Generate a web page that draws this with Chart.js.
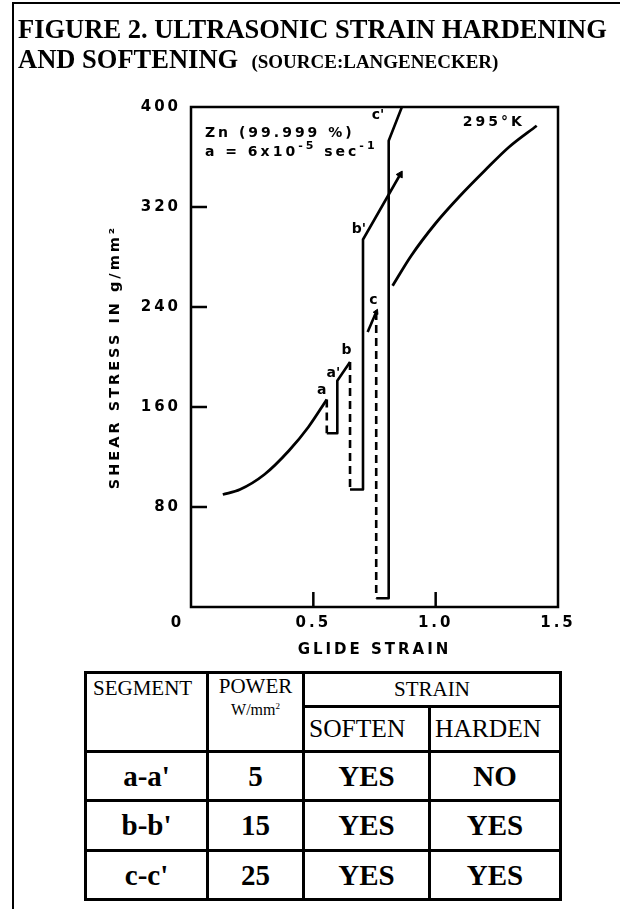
<!DOCTYPE html>
<html>
<head>
<meta charset="utf-8">
<script src="https://cdn.jsdelivr.net/npm/chart.js@4.4.1/dist/chart.umd.min.js"></script>
<style>
  html, body { margin: 0; padding: 0; background: #fff; }
  #page { position: relative; width: 620px; height: 909px; overflow: hidden; }
  #frame { position: absolute; left: 12px; top: 2px; width: 800px; height: 1000px;
           border-left: 2px solid #000; border-top: 2px solid #000; }
  #chart { position: absolute; left: 0; top: 0; }
  .title { position: absolute; left: 18px; font-family: "Liberation Serif", serif; font-weight: bold;
           font-size: 26.5px; white-space: nowrap; line-height: 1; color: #000; }
  .title small { font-size: 19px; }
  table { position: absolute; left: 84px; top: 671px; border-collapse: collapse; table-layout: fixed;
          font-family: "Liberation Serif", serif; color: #000; }
  td { border: 3px solid #000; padding: 0; overflow: hidden; white-space: nowrap; }
  .head { font-size: 21px; vertical-align: top; padding: 2px 0 0 6px; }
  .pow { text-align: center; padding-left: 0; line-height: 20px; }
  .pow span { font-size: 16px; }
  .pow sup { font-size: 9px; vertical-align: 6px; }
  .strain { font-size: 21px; text-align: center; }
  .sub { font-size: 25.5px; padding-left: 4px; }
  .val { font-size: 29px; font-weight: bold; text-align: center; }
</style>
</head>
<body>
<div id="page">
  <div id="frame"></div>
  <canvas id="chart" width="620" height="670"></canvas>
  <div class="title" style="top:16px">FIGURE 2. ULTRASONIC STRAIN HARDENING</div>
  <div class="title" style="top:46px">AND SOFTENING&nbsp;&nbsp;<small>(SOURCE:LANGENECKER)</small></div>
  <table>
    <colgroup>
      <col style="width:122px"><col style="width:96px"><col style="width:126px"><col style="width:131px">
    </colgroup>
    <tr style="height:34px">
      <td class="head" rowspan="2">SEGMENT</td>
      <td class="head pow" rowspan="2">POWER<br><span>W/mm<sup>2</sup></span></td>
      <td class="strain" colspan="2">STRAIN</td>
    </tr>
    <tr style="height:45px">
      <td class="sub">SOFTEN</td>
      <td class="sub">HARDEN</td>
    </tr>
    <tr style="height:49px"><td class="val">a-a'</td><td class="val">5</td><td class="val">YES</td><td class="val">NO</td></tr>
    <tr style="height:50px"><td class="val">b-b'</td><td class="val">15</td><td class="val">YES</td><td class="val">YES</td></tr>
    <tr style="height:49px"><td class="val">c-c'</td><td class="val">25</td><td class="val">YES</td><td class="val">YES</td></tr>
  </table>
</div>
<script>
// glide strain (x) and shear stress in g/mm2 (y)
const curveAX = [0.13, 0.2, 0.3, 0.4, 0.48, 0.555];
const curveAY = [90, 94, 106, 125, 144, 166];
const dropAX = [0.555, 0.555];
const dropAY = [166, 139];
const pathAX = [0.555, 0.598, 0.598, 0.65];
const pathAY = [139, 139, 181, 196];
const dropBX = [0.65, 0.65];
const dropBY = [196, 94];
const pathBX = [0.65, 0.703, 0.703, 0.855];
const pathBY = [94, 94, 294, 346];
const riseCX = [0.722, 0.757];
const riseCY = [220, 236];
const dropCX = [0.757, 0.757];
const dropCY = [236, 7];
const pathCX = [0.757, 0.808, 0.808, 0.862];
const pathCY = [7, 7, 373, 400];
const curveEX = [0.824, 0.9, 1.0, 1.1, 1.2, 1.3, 1.413];
const curveEY = [257, 281, 307, 329, 349, 368, 385];

const yTickMarks = [80, 160, 240, 320];
const xTickMarks = [0.5, 1.0];

// text in the plot, anchored at data values; ^{..} marks a superscript
const noteText = ["Zn (99.999 %)", "a = 6x10^{-5} sec^{-1}", "295°K", "a", "a'", "b", "b'", "c", "c'"];
const noteX = [0.057, 0.057, 1.238, 0.534, 0.582, 0.636, 0.686, 0.745, 0.764];
const noteY = [379, 364, 388, 173, 187, 205, 302, 245, 393];

const ink = "#000";
const letterFont = "DejaVu Sans";

function points(xs, ys) {
  return xs.map((x, i) => ({ x: x, y: ys[i] }));
}

function segment(xs, ys, dashed, arrowAngle, arrowSize) {
  return {
    data: points(xs, ys),
    borderColor: ink,
    borderWidth: 2.6,
    borderDash: dashed ? [8, 5] : [],
    borderCapStyle: "butt",
    borderJoinStyle: "round",
    tension: 0,
    fill: false,
    pointStyle: "triangle",
    rotation: arrowAngle || 0,
    pointRadius: xs.map((_, i) => (arrowAngle && i === xs.length - 1 ? arrowSize || 4 : 0)),
    pointBackgroundColor: ink,
    pointBorderColor: ink,
    pointBorderWidth: 1,
  };
}

function curve(xs, ys) {
  const ds = segment(xs, ys, false);
  ds.cubicInterpolationMode = "monotone";
  ds.borderWidth = 2.8;
  return ds;
}

// draws text where ^{...} parts are raised and smaller
function drawNote(ctx, text, px, py, size, align) {
  const parts = text.split(/(\^\{[^}]*\})/).filter((p) => p !== "");
  const big = "bold " + size + "px " + letterFont;
  const small = "bold " + Math.round(size * 0.8) + "px " + letterFont;
  let total = 0;
  parts.forEach((p) => {
    ctx.font = p.startsWith("^{") ? small : big;
    total += ctx.measureText(p.startsWith("^{") ? p.slice(2, -1) : p).width;
  });
  let cx = align === "center" ? px - total / 2 : px;
  ctx.textAlign = "left";
  parts.forEach((p) => {
    const sup = p.startsWith("^{");
    const t = sup ? p.slice(2, -1) : p;
    ctx.font = sup ? small : big;
    ctx.fillText(t, cx, sup ? py - size * 0.4 : py);
    cx += ctx.measureText(t).width;
  });
}

const figurePlugin = {
  id: "figure",
  beforeDraw(chart) {
    chart.ctx.letterSpacing = "3px";
  },
  afterDraw(chart) {
    const { ctx, chartArea: a, scales } = chart;
    const x = scales.x;
    const y = scales.y;
    ctx.save();
    ctx.strokeStyle = ink;
    ctx.lineWidth = 2.5;
    ctx.strokeRect(a.left, a.top, a.right - a.left, a.bottom - a.top);

    ctx.beginPath();
    yTickMarks.forEach((v) => {
      const py = y.getPixelForValue(v);
      ctx.moveTo(a.left, py);
      ctx.lineTo(a.left + 16, py);
    });
    xTickMarks.forEach((v) => {
      const px = x.getPixelForValue(v);
      ctx.moveTo(px, a.bottom);
      ctx.lineTo(px, a.bottom - 15);
    });
    ctx.stroke();

    ctx.fillStyle = ink;
    ctx.textBaseline = "middle";
    noteText.forEach((t, i) => {
      ctx.letterSpacing = i < 3 ? "3px" : "0px";
      drawNote(ctx, t, x.getPixelForValue(noteX[i]), y.getPixelForValue(noteY[i]), 14, i < 2 ? "left" : "center");
    });

    // shared origin label, set below and left of the corner
    ctx.letterSpacing = "0px";
    ctx.font = "bold 15px " + letterFont;
    ctx.textAlign = "center";
    ctx.fillText("0", x.getPixelForValue(0) - 15, a.bottom + 16);
    ctx.restore();
  },
};

const axisFont = { family: letterFont, size: 15, weight: "bold" };

new Chart(document.getElementById("chart").getContext("2d"), {
  type: "line",
  data: {
    datasets: [
      curve(curveAX, curveAY),
      segment(dropAX, dropAY, true),
      segment(pathAX, pathAY, false),
      segment(dropBX, dropBY, true),
      segment(pathBX, pathBY, false, 30),
      segment(riseCX, riseCY, false, 25, 3),
      segment(dropCX, dropCY, true),
      segment(pathCX, pathCY, false),
      curve(curveEX, curveEY),
    ],
  },
  options: {
    responsive: false,
    animation: false,
    layout: { padding: { left: 0, right: 62, top: 107, bottom: 0 } },
    plugins: {
      legend: { display: false },
      tooltip: { enabled: false },
    },
    scales: {
      x: {
        type: "linear",
        min: 0,
        max: 1.5,
        grid: { display: false, drawTicks: false },
        border: { display: false },
        ticks: {
          stepSize: 0.5,
          autoSkip: false,
          maxRotation: 0,
          padding: 7,
          color: ink,
          font: axisFont,
          callback: (v) => (v === 0 ? "" : v.toFixed(1)),
        },
        title: {
          display: true,
          text: "GLIDE STRAIN",
          color: ink,
          font: { family: letterFont, size: 15, weight: "bold" },
          padding: { top: 0, bottom: 11 },
        },
        afterFit: (s) => {
          s.height = 63;
        },
      },
      y: {
        type: "linear",
        min: 0,
        max: 400,
        grid: { display: false, drawTicks: false },
        border: { display: false },
        ticks: {
          stepSize: 80,
          padding: 10,
          color: ink,
          font: axisFont,
          callback: (v) => (v === 0 ? "" : v),
        },
        title: {
          display: true,
          text: "SHEAR STRESS IN g/mm²",
          color: ink,
          font: { family: letterFont, size: 14.5, weight: "bold" },
          padding: { top: 107, bottom: 0 },
        },
        afterFit: (s) => {
          s.width = 191;
        },
      },
    },
  },
  plugins: [figurePlugin],
});
</script>
</body>
</html>
